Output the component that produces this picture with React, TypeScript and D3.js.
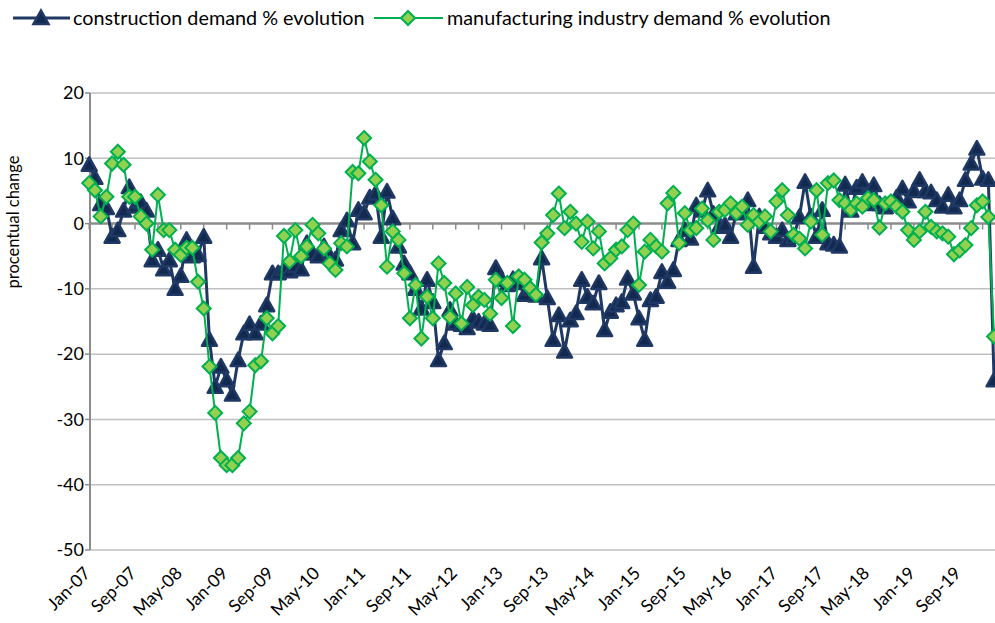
import React, { useEffect, useRef } from "react";
import * as d3 from "d3";

// monthly values, Jan-07 .. Mar-20
const construction = [
  9, 7, 3, 2.4, -2, -1, 2, 5.6, 2.6, 3.3, 2, -5.6,
  -4, -7, -5.6, -10, -8, -2.5, -5, -4.8, -2, -17.8, -25, -21.9,
  -24, -26.2, -20.9, -16.8, -15.4, -16.8, -15.3, -12.5, -7.6, -7.6, -7, -7.3,
  -6.5, -7, -3, -4.6, -5, -3.5, -5, -5.5, -1, 0.5, -3, 2.1,
  1.6, 4, 4.6, -2, 4.9, 0.8, -3.5, -6.1, -7.6, -10, -13, -8.6,
  -12, -20.9, -18.3, -13.2, -15.3, -15.5, -16, -14.5, -15, -15.3, -15.5, -6.8,
  -8.6, -9.4, -8.5, -9.1, -10.9, -10, -11, -5.3, -11.4, -17.8, -14, -19.6,
  -14.8, -13.7, -8.6, -11.2, -12.2, -9.1, -16.3, -13.5, -12.5, -12, -8.4, -10.7,
  -14.5, -17.8, -11.7, -11.2, -7.4, -8.9, -7.1, -2.5, -1, -2.3, 2.8, 2,
  5.1, 1.5, -0.5, -0.2, -2, 1.6, 1.8, 3.6, -6.6, 1.1, -0.5, -1.5,
  -2, -1, -2.5, -2, 1, 6.4, 1.1, -2, 2.1, -3, -3.2, -3.5,
  6, 2, 5.5, 6.4, 3, 5.9, 3, 2.5, 3, 4, 5.4, 3.4,
  5, 6.7, 5, 4.8, 3.6, 2.6, 4.4, 2.5, 3.6, 6.7, 9.2, 11.5,
  6.9, 6.7, -24,
];

const manufacturing = [
  6.2, 5.1, 1.1, 4.1, 9.2, 11, 9, 4.1, 4.1, 1.1, 0, -4,
  4.4, -1, -1, -4, -4.8, -3.7, -3.7, -8.9, -13, -21.9, -29, -35.9,
  -37, -37, -35.9, -30.6, -28.8, -21.7, -21.1, -14.5, -16.8, -15.7, -1.9, -5.8,
  -1, -5, -3.5, -0.2, -1.5, -3.8, -6.1, -7.1, -3, -3.5, 7.9, 7.7,
  13.1, 9.5, 6.7, 2.8, -6.6, -1.2, -2.5, -7.6, -14.5, -9.4, -17.6, -11.2,
  -14.5, -6.1, -9.1, -14.3, -10.7, -15.3, -9.7, -12.5, -11.2, -11.7, -13.8, -8.6,
  -11.4, -9.1, -15.7, -8.1, -8.6, -9.9, -10.9, -2.9, -1.5, 1.3, 4.6, -0.7,
  1.8, 0, -2.8, 0.3, -3.8, -1.2, -6.1, -5.3, -4, -3.5, -1, 0,
  -9.4, -4.3, -2.5, -3.5, -4.3, 3.1, 4.7, -3, 1.6, -1, -0.7, 2.3,
  0.5, -2.5, 1.8, 2.1, 3.1, 1.6, 2.6, -0.2, 1.3, 0.3, 1.1, -1.2,
  3.4, 5.1, 1.3, -1.7, -2.3, -3.8, 0.3, 5.1, -1.7, 6.2, 6.6, 3.6,
  3.1, 2.1, 3.1, 2.6, 3.9, 3.6, -0.6, 3.1, 3.4, 2.6, 1.8, -1,
  -2.5, -1.2, 1.8, -0.5, -1.2, -1.5, -2, -4.7, -4.1, -3.3, -0.7, 2.8,
  3.4, 1, -17.3,
];

const tickLabels = [
  "Jan-07", "Sep-07", "May-08", "Jan-09", "Sep-09", "May-10", "Jan-11",
  "Sep-11", "May-12", "Jan-13", "Sep-13", "May-14", "Jan-15", "Sep-15",
  "May-16", "Jan-17", "Sep-17", "May-18", "Jan-19", "Sep-19",
];
const yTicks = [20, 10, 0, -10, -20, -30, -40, -50];

const BLUE = "#1f3864";
const GREEN = "#00b050";
const FONT = "Lato, 'Open Sans', sans-serif";

function App() {
  const ref = useRef<SVGSVGElement>(null);

  useEffect(() => {
    const svg = d3.select(ref.current);
    svg.selectAll("*").remove();

    const n = construction.length;
    const x = d3.scaleLinear().domain([0, 1]).range([89.2, 89.2 + 5.727]);
    const y = d3.scaleLinear().domain([-50, 20]).range([550, 93]);
    const left = 90;
    const right = 1000;

    // grid
    svg.append("g")
      .selectAll("line")
      .data(yTicks.filter((t) => t !== 0))
      .enter()
      .append("line")
      .attr("x1", left).attr("x2", right)
      .attr("y1", (d) => y(d)).attr("y2", (d) => y(d))
      .attr("stroke", "#c0c0c0").attr("stroke-width", 1.5);

    // y axis
    svg.append("line")
      .attr("x1", left).attr("x2", left)
      .attr("y1", y(20)).attr("y2", y(-50))
      .attr("stroke", "#8c8c8c").attr("stroke-width", 2);
    svg.append("g")
      .selectAll("line")
      .data(yTicks)
      .enter()
      .append("line")
      .attr("x1", left - 5).attr("x2", left)
      .attr("y1", (d) => y(d)).attr("y2", (d) => y(d))
      .attr("stroke", "#8c8c8c").attr("stroke-width", 1.5);
    svg.append("g")
      .selectAll("text")
      .data(yTicks)
      .enter()
      .append("text")
      .attr("x", 84).attr("y", (d) => y(d)).attr("dy", "0.35em")
      .attr("text-anchor", "end")
      .attr("font-family", FONT).attr("font-size", 18).attr("fill", "#000")
      .text((d) => d);

    // zero axis with minor ticks every 4 months
    svg.append("line")
      .attr("x1", left).attr("x2", right)
      .attr("y1", y(0)).attr("y2", y(0))
      .attr("stroke", "#8c8c8c").attr("stroke-width", 2.5);
    svg.append("g")
      .selectAll("line")
      .data(d3.range(0, n + 4, 4))
      .enter()
      .append("line")
      .attr("x1", (d) => x(d)).attr("x2", (d) => x(d))
      .attr("y1", y(0)).attr("y2", y(0) + 6)
      .attr("stroke", "#8c8c8c").attr("stroke-width", 1.5);

    // x labels
    svg.append("g")
      .selectAll("text")
      .data(tickLabels)
      .enter()
      .append("text")
      .attr("transform", (d, i) => `translate(${x(i * 8) - 2},${570}) rotate(-45)`)
      .attr("text-anchor", "end")
      .attr("dy", "0.35em")
      .attr("font-family", FONT).attr("font-size", 17.5).attr("fill", "#000")
      .text((d) => d);

    // y title
    svg.append("text")
      .attr("transform", `translate(19,222) rotate(-90)`)
      .attr("text-anchor", "middle")
      .attr("font-family", FONT).attr("font-size", 16.5).attr("fill", "#000")
      .text("procentual change");

    const line = d3.line<number>().x((d, i) => x(i)).y((d) => y(d));
    const tri = "M0,-7.5L7.5,6L-7.5,6Z";
    const dia = "M0,-7L7,0L0,7L-7,0Z";

    // construction
    svg.append("path")
      .datum(construction)
      .attr("d", line)
      .attr("fill", "none").attr("stroke", BLUE).attr("stroke-width", 3)
      .attr("stroke-linejoin", "round");
    svg.append("g")
      .selectAll("path")
      .data(construction)
      .enter()
      .append("path")
      .attr("d", tri)
      .attr("transform", (d, i) => `translate(${x(i)},${y(d)})`)
      .attr("fill", "#132a50").attr("stroke", BLUE).attr("stroke-width", 2.5)
      .attr("stroke-linejoin", "round");

    // manufacturing
    svg.append("path")
      .datum(manufacturing)
      .attr("d", line)
      .attr("fill", "none").attr("stroke", GREEN).attr("stroke-width", 2)
      .attr("stroke-linejoin", "round");
    svg.append("g")
      .selectAll("path")
      .data(manufacturing)
      .enter()
      .append("path")
      .attr("d", dia)
      .attr("transform", (d, i) => `translate(${x(i)},${y(d)})`)
      .attr("fill", "#92d050").attr("stroke", GREEN).attr("stroke-width", 2);

    // legend
    const lg = svg.append("g");
    lg.append("line").attr("x1", 13).attr("x2", 70).attr("y1", 18).attr("y2", 18)
      .attr("stroke", BLUE).attr("stroke-width", 3);
    lg.append("path").attr("d", tri).attr("transform", "translate(41,18)")
      .attr("fill", "#132a50").attr("stroke", BLUE).attr("stroke-width", 2.5);
    lg.append("text").attr("x", 73).attr("y", 18).attr("dy", "0.35em")
      .attr("font-family", FONT).attr("font-size", 19.8).attr("fill", "#000")
      .text("construction demand % evolution");
    lg.append("line").attr("x1", 374).attr("x2", 443).attr("y1", 18).attr("y2", 18)
      .attr("stroke", GREEN).attr("stroke-width", 2);
    lg.append("path").attr("d", dia).attr("transform", "translate(408,18)")
      .attr("fill", "#92d050").attr("stroke", GREEN).attr("stroke-width", 2);
    lg.append("text").attr("x", 447).attr("y", 18).attr("dy", "0.35em")
      .attr("font-family", FONT).attr("font-size", 19.8).attr("fill", "#000")
      .text("manufacturing industry demand % evolution");
  }, []);

  return (
    <svg
      ref={ref}
      width={995}
      height={623}
      style={{ position: "absolute", left: 0, top: 0, background: "#fff" }}
    />
  );
}

export default App;
